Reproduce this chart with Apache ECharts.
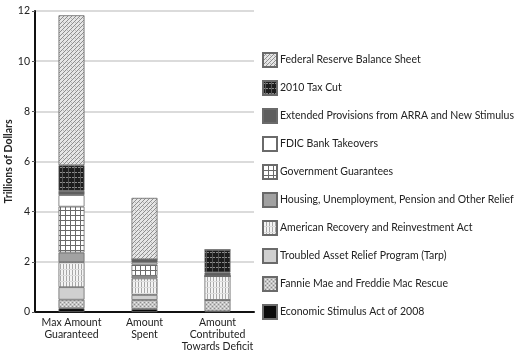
<!DOCTYPE html>
<html>
<head>
<meta charset="utf-8">
<script src="https://cdn.jsdelivr.net/npm/echarts@6/dist/echarts.min.js"></script>
<style>
html,body{margin:0;padding:0;background:#fff;}
#chart{width:517px;height:353px;}
</style>
</head>
<body>
<div id="chart"></div>
<script>
// Data
var categories = ['Max Amount\nGuaranteed', 'Amount\nSpent', 'Amount\nContributed\nTowards Deficit'];
var yTicks = [0, 2, 4, 6, 8, 10, 12];
var economicStimulus = [0.15, 0.12, 0.03];
var fannieFreddie   = [0.34, 0.36, 0.45];
var tarp            = [0.50, 0.20, 0.00];
var arra            = [1.00, 0.66, 0.95];
var housingRelief   = [0.38, 0.10, 0.00];
var govGuarantees   = [1.83, 0.45, 0.00];
var fdicTakeovers   = [0.46, 0.08, 0.00];
var extendedProv    = [0.17, 0.13, 0.15];
var taxCut2010      = [1.02, 0.00, 0.90];
var fedReserve      = [5.98, 2.45, 0.00];

var seriesNames = [
  'Economic Stimulus Act of 2008',
  'Fannie Mae and Freddie Mac Rescue',
  'Troubled Asset Relief Program (Tarp)',
  'American Recovery and Reinvestment Act',
  'Housing, Unemployment, Pension and Other Relief',
  'Government Guarantees',
  'FDIC Bank Takeovers',
  'Extended Provisions from ARRA and New Stimulus',
  '2010 Tax Cut',
  'Federal Reserve Balance Sheet'
];
var seriesData = [economicStimulus, fannieFreddie, tarp, arra, housingRelief,
                  govGuarantees, fdicTakeovers, extendedProv, taxCut2010, fedReserve];

function makePattern(w, h, draw) {
  var c = document.createElement('canvas');
  c.width = w; c.height = h;
  var ctx = c.getContext('2d');
  draw(ctx, w, h);
  return { image: c, repeat: 'repeat' };
}

var fills = [
  '#0a0a0a', // economic
  makePattern(4, 4, function (ctx) { // fannie
    ctx.fillStyle = '#c4c4c4'; ctx.fillRect(0, 0, 4, 4);
    ctx.fillStyle = '#ececec'; ctx.fillRect(0, 0, 1, 1); ctx.fillRect(2, 2, 1, 1);
    ctx.fillStyle = '#8c8c8c'; ctx.fillRect(2, 0, 1, 1); ctx.fillRect(0, 2, 1, 1);
  }),
  '#d0d0d0', // tarp
  makePattern(3, 6, function (ctx) { // arra
    ctx.fillStyle = '#f4f4f4'; ctx.fillRect(0, 0, 3, 6);
    ctx.fillStyle = '#a8a8a8'; ctx.fillRect(0, 0, 1, 6);
    ctx.fillStyle = '#dcdcdc'; ctx.fillRect(0, 5, 3, 1);
  }),
  '#a2a2a2', // housing
  makePattern(5, 5, function (ctx) { // gov guarantees
    ctx.fillStyle = '#ffffff'; ctx.fillRect(0, 0, 5, 5);
    ctx.fillStyle = '#6a6a6a'; ctx.fillRect(0, 0, 5, 1); ctx.fillRect(0, 0, 1, 5);
  }),
  '#ffffff', // fdic
  '#5e5e5e', // extended
  makePattern(6, 5, function (ctx) { // tax cut
    ctx.fillStyle = '#1c1c1c'; ctx.fillRect(0, 0, 6, 5);
    ctx.fillStyle = '#8a8a8a'; ctx.fillRect(0, 2, 2, 1); ctx.fillRect(3, 2, 2, 1);
    ctx.fillStyle = '#555'; ctx.fillRect(2, 0, 1, 5);
  }),
  makePattern(4, 4, function (ctx) { // fed reserve
    ctx.fillStyle = '#e6e6e6'; ctx.fillRect(0, 0, 4, 4);
    ctx.fillStyle = '#8e8e8e';
    ctx.fillRect(3, 0, 1, 1); ctx.fillRect(2, 1, 1, 1); ctx.fillRect(1, 2, 1, 1); ctx.fillRect(0, 3, 1, 1);
    ctx.fillStyle = '#bcbcbc'; ctx.fillRect(3, 2, 1, 1);
  })
];

var series = seriesNames.map(function (name, i) {
  return {
    name: name,
    type: 'bar',
    stack: 'total',
    barWidth: 26,
    data: seriesData[i],
    itemStyle: { color: fills[i], borderColor: '#6a6a6a', borderWidth: 0.8 },
    emphasis: { disabled: true }
  };
});

var chart = echarts.init(document.getElementById('chart'), null, { renderer: 'canvas' });
chart.setOption({
  animation: false,
  textStyle: { fontFamily: 'Lato' },
  grid: { left: 35, right: 263, top: 11, bottom: 40, containLabel: false },
  legend: {
    orient: 'vertical',
    left: 262,
    top: 52,
    padding: 0,
    icon: 'rect',
    itemWidth: 14,
    itemHeight: 14,
    itemGap: 12,
    selectedMode: false,
    data: seriesNames.slice().reverse(),
    textStyle: { fontFamily: 'Lato', fontSize: 10.5, color: '#222', padding: [0, 0, 0, -2] }
  },
  xAxis: {
    type: 'category',
    data: categories,
    axisLine: { lineStyle: { color: '#111', width: 2 } },
    axisTick: { lineStyle: { color: '#999' }, length: 4 },
    axisLabel: { fontFamily: 'Lato', fontSize: 10.5, color: '#222', lineHeight: 12, margin: 5, interval: 0 }
  },
  yAxis: {
    type: 'value',
    min: 0,
    max: 12,
    interval: 2,
    name: 'Trillions of Dollars',
    nameLocation: 'middle',
    nameGap: 17,
    nameTextStyle: { fontFamily: 'Lato', fontSize: 10.5, fontWeight: 'bold', color: '#222' },
    axisLine: { show: true, lineStyle: { color: '#111', width: 2 } },
    axisTick: { show: true, length: 3, lineStyle: { color: '#555' } },
    axisLabel: { fontFamily: 'Lato', fontSize: 10.5, color: '#222', margin: 5,
      formatter: function (v) { return yTicks.indexOf(v) >= 0 ? String(v) : ''; } },
    splitLine: { lineStyle: { color: '#cfcfcf', width: 1.5 } }
  },
  series: series
});
</script>
</body>
</html>
